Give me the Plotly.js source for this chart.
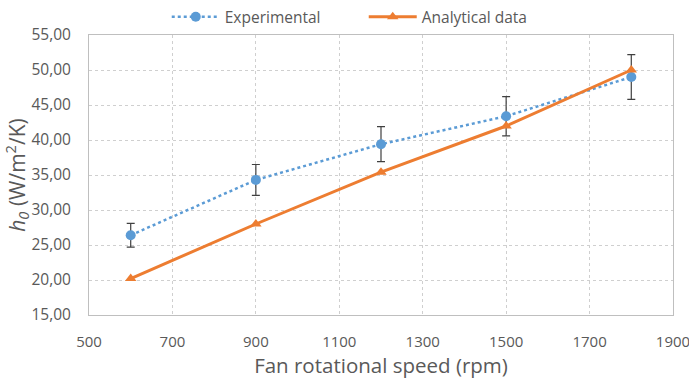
<!DOCTYPE html>
<html>
<head>
<meta charset="utf-8">
<script src="https://cdn.plot.ly/plotly-3.0.1.min.js"></script>
<style>html,body{margin:0;padding:0;background:#fff;}#chart{width:689px;height:380px;}</style>
</head>
<body>
<div id="chart"></div>
<script>
const speeds = [600, 900, 1200, 1500, 1800];
const experimental = [26.4, 34.3, 39.4, 43.4, 49.0];
const experimentalErr = [1.7, 2.2, 2.5, 2.8, 3.2];
const analytical = [20.2, 28.0, 35.4, 42.0, 50.0];
const seriesNames = ["Experimental", "Analytical data"];

const textColor = '#595959';
const fontFam = '"Open Sans", "Noto Sans", sans-serif';

const traces = [
  {
    x: speeds, y: experimental, name: seriesNames[0], type: 'scatter', mode: 'lines+markers',
    line: {color: '#5b9bd5', width: 2.5, dash: 'dot'},
    marker: {symbol: 'circle', size: 10, color: '#5b9bd5'},
    error_y: {type: 'data', array: experimentalErr, visible: true, color: '#404040', thickness: 1.2, width: 4}
  },
  {
    x: speeds, y: analytical, name: seriesNames[1], type: 'scatter', mode: 'lines+markers',
    line: {color: '#ed7d31', width: 3},
    marker: {symbol: 'triangle-up', size: 10, color: '#ed7d31'}
  }
];

const layout = {
  width: 689, height: 380,
  margin: {l: 89, r: 16, t: 35, b: 65, autoexpand: false},
  paper_bgcolor: '#fff', plot_bgcolor: '#fff',
  separators: ',.',
  font: {family: fontFam, color: textColor, size: 15},
  showlegend: true,
  legend: {orientation: 'h', xref: 'container', x: 0.242, xanchor: 'left',
           yref: 'container', y: 0.955, yanchor: 'middle',
           font: {size: 15.5, color: textColor}, itemwidth: 48, tracegroupgap: 0,
           entrywidth: 134, entrywidthmode: 'pixels'},
  xaxis: {
    range: [500, 1900], tickvals: [500, 700, 900, 1100, 1300, 1500, 1700, 1900],
    showgrid: true, gridcolor: '#cfcfcf', griddash: 'dot', gridwidth: 1,
    showline: true, linecolor: '#bfbfbf', linewidth: 1, mirror: true,
    zeroline: false, ticks: 'outside', ticklen: 13, tickcolor: 'rgba(0,0,0,0)',
    tickfont: {size: 15, color: textColor}, ticklabeloverflow: 'allow', automargin: false,
    title: {text: 'Fan rotational speed (rpm)', font: {size: 20.5, color: textColor}, standoff: 4}
  },
  yaxis: {
    range: [15, 55], dtick: 5, tickformat: '.2f',
    showgrid: true, gridcolor: '#cfcfcf', griddash: 'dot', gridwidth: 1,
    showline: true, linecolor: '#bfbfbf', linewidth: 1, mirror: true,
    zeroline: false, ticks: 'outside', ticklen: 14, tickcolor: 'rgba(0,0,0,0)',
    tickfont: {size: 15.5, color: textColor}, automargin: false,
    title: {text: '<i>h<sub>0</sub></i> (W/m<sup>2</sup>/K)', font: {size: 21, color: textColor}, standoff: 2}
  }
};

Plotly.newPlot('chart', traces, layout, {displayModeBar: false, staticPlot: true});
</script>
</body>
</html>
